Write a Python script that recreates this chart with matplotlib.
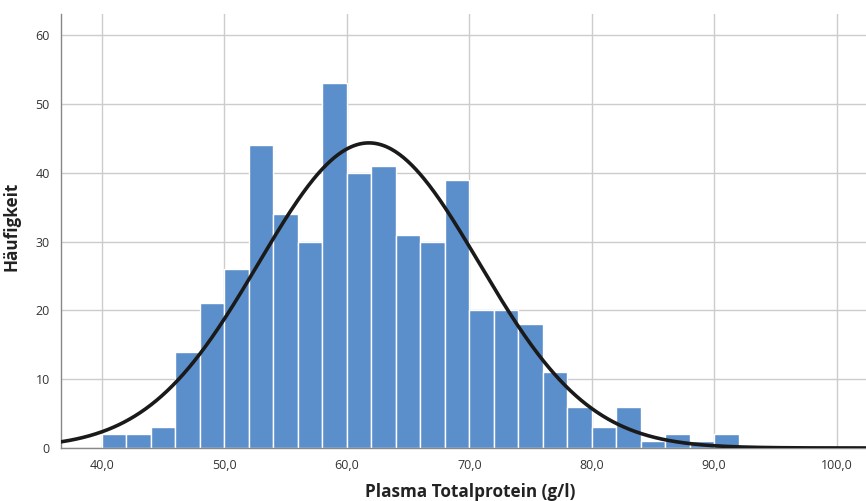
import numpy as np
import matplotlib
matplotlib.use("Agg")
import matplotlib.pyplot as plt

# Data
bin_edges_start = [40, 42, 44, 46, 48, 50, 52, 54, 56, 58, 60, 62, 64, 66, 68,
                   70, 72, 74, 76, 78, 80, 82, 84, 86, 88, 90]
bin_width = 2
counts = [2, 2, 3, 14, 21, 26, 44, 34, 30, 53, 40, 41, 31, 30, 39,
          20, 20, 18, 11, 6, 3, 6, 1, 2, 1, 2]
mean_val = 61.8
std_val = 9.0
x_ticks = [40, 50, 60, 70, 80, 90, 100]
x_tick_labels = ["40,0", "50,0", "60,0", "70,0", "80,0", "90,0", "100,0"]
y_ticks = [0, 10, 20, 30, 40, 50, 60]

plt.rcParams['font.family'] = ['Open Sans', 'DejaVu Sans']

fig = plt.figure(figsize=(8.66, 5.01), dpi=100)
ax = fig.add_axes([0.0704, 0.1058, 0.9296, 0.8662])

ax.bar(bin_edges_start, counts, width=bin_width, align='edge',
       color='#5b8fcb', edgecolor='white', linewidth=1.0, zorder=2)

xlim = (36.65, 102.4)
xs = np.linspace(xlim[0], xlim[1], 600)
n = sum(counts)
ys = n * bin_width / (std_val * np.sqrt(2 * np.pi)) * np.exp(-0.5 * ((xs - mean_val) / std_val) ** 2)
ax.plot(xs, ys, color='#1a1a1a', linewidth=2.6, zorder=3, solid_capstyle='round')

ax.set_xlim(*xlim)
ax.set_ylim(0, 63.05)
ax.set_xticks(x_ticks)
ax.set_xticklabels(x_tick_labels)
ax.set_yticks(y_ticks)

ax.grid(True, color='#cccccc', linewidth=1.0, zorder=0)
ax.set_axisbelow(True)
for s in ['top', 'right']:
    ax.spines[s].set_visible(False)
for s in ['left', 'bottom']:
    ax.spines[s].set_color('#888888')
    ax.spines[s].set_linewidth(1.0)
ax.tick_params(axis='both', length=0, labelsize=9, labelcolor='#333333', pad=8)

xl = ax.set_xlabel('Plasma Totalprotein (g/l)', fontsize=12.3, fontweight='bold', color='#222222')
xl.set_va('center')
ax.xaxis.set_label_coords(0.508, -0.101)
yl = ax.set_ylabel('Häufigkeit', fontsize=12.3, fontweight='bold', color='#222222')
yl.set_va('center')
ax.yaxis.set_label_coords(-0.0609, 0.51)

fig.savefig('out.png', dpi=100)
